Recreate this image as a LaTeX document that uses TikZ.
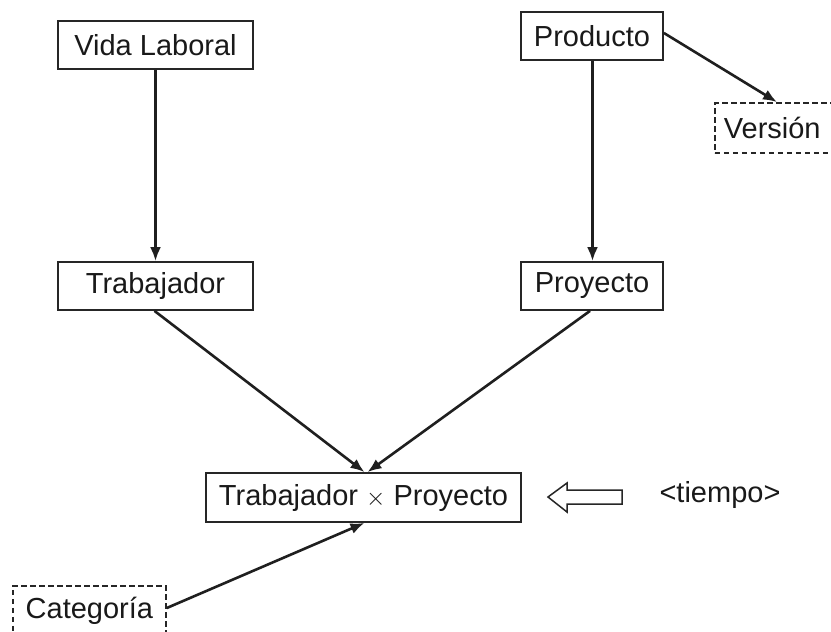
\documentclass[tikz,border=0pt]{standalone}
\usepackage{fontspec}
\setmainfont{Liberation Sans}
\usetikzlibrary{arrows.meta,calc}
\begin{document}
\begin{tikzpicture}[x=1pt,y=-1pt,
  box/.style={draw=black!85,line width=1.8pt,inner sep=0pt,minimum height=48pt,font=\fontsize{29}{35}\selectfont,text=black!90},
  dbox/.style={box,dash pattern=on 5.5pt off 3.5pt},
  conn/.style={line width=2.6pt,draw=black!88,-{Latex[length=14pt,width=11pt]}}]
\useasboundingbox (0,0) rectangle (831,632);
\fill[white] (0,0) rectangle (831,632);
\node[box,minimum width=195pt] (vida) at (155.5,45) {Vida Laboral};
\node[box,minimum width=195pt] (trab) at (155.5,286) {Trabajador};
\node[box,minimum width=142pt] (prod) at (592,36) {Producto};
\node[box,minimum width=142pt] (proy) at (592,286) {Proyecto};
\node[box,minimum width=315pt,minimum height=49pt] (txp) at (363.5,497.5) {Trabajador $\times$ Proyecto};
\node[dbox,minimum height=50pt,anchor=west,text width=130pt,inner xsep=9pt,align=left] (vers) at (714,128) {Versión};
\node[dbox,minimum width=153pt,minimum height=50pt,anchor=north west] (cat) at (12,585) {Categoría};
\node[font=\fontsize{29}{35}\selectfont,text=black!90,inner sep=0pt] (tiempo) at (720,495) {<tiempo>};
\coordinate (ht) at (548,497);
\draw[line width=1.5pt,draw=black!85] (ht) -- (567,483) -- (567,490) -- (622,490) -- (622,504) -- (567,504) -- (567,512) -- cycle;
\draw[conn] (vida.south) -- (trab.north);
\draw[conn] (prod.south -| 592.5,0) -- (proy.north -| 592.5,0);
\draw[conn] ($(trab.south)+(-1,0)$) -- ($(txp.north)+(1,0)$);
\draw[conn] ($(proy.south)+(-2,0)$) -- ($(txp.north)+(4,0)$);
\draw[conn] ($(cat.north east)+(0,23)$) -- ($(txp.south)+(1,0)$);
\draw[conn] ($(prod.east)+(0,-3)$) -- ($(vers.north west)+(63,0)$);
\end{tikzpicture}
\end{document}
